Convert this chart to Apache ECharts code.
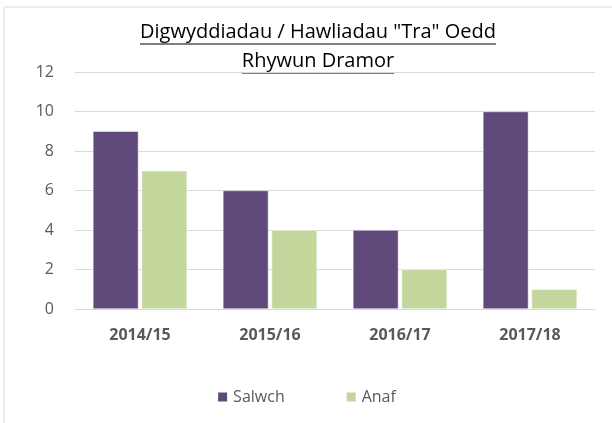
<!DOCTYPE html>
<html>
<head>
<meta charset="utf-8">
<script src="https://cdn.jsdelivr.net/npm/echarts@6/dist/echarts.min.js"></script>
<style>
  html, body { margin: 0; padding: 0; background: #fff; }
  #chart { width: 612px; height: 423px; }
</style>
</head>
<body>
<div id="chart"></div>
<script>
const titleLines = ['Digwyddiadau / Hawliadau "Tra" Oedd', 'Rhywun Dramor'];
const years = ['2014/15', '2015/16', '2016/17', '2017/18'];
const salwch = [9, 6, 4, 10];
const anaf = [7, 4, 2, 1];
const yTicks = [0, 2, 4, 6, 8, 10, 12];

const FONT = '"Open Sans", "Noto Sans", sans-serif';
const TITLE_SIZE = 20;
const chart = echarts.init(document.getElementById('chart'));

// measure title text so the underline fits it
const ctx = document.createElement('canvas').getContext('2d');
ctx.font = TITLE_SIZE + 'px ' + FONT;
const lineY = [32, 61];
const underline = titleLines.map((t, i) => {
  const w = ctx.measureText(t).width;
  return {
    type: 'line',
    shape: { x1: 318 - w / 2, y1: lineY[i] + 12, x2: 318 + w / 2, y2: lineY[i] + 12 },
    style: { stroke: '#000', lineWidth: 1 }
  };
});
const titleText = titleLines.map((t, i) => ({
  type: 'text',
  x: 318,
  y: lineY[i],
  style: {
    text: t, font: TITLE_SIZE + 'px ' + FONT, fill: '#000',
    align: 'center', verticalAlign: 'middle'
  }
}));

chart.setOption({
  animation: false,
  color: ['#604A7B', '#C3D69B'],
  graphic: [
    {
      type: 'rect',
      shape: { x: 4, y: 7, width: 700, height: 500 },
      style: { fill: 'none', stroke: '#d9d9d9', lineWidth: 1 }
    },
    ...titleText,
    ...underline
  ],
  grid: { left: 75, right: 17, top: 72, bottom: 114 },
  legend: {
    bottom: 13,
    left: 'center',
    itemWidth: 11,
    itemHeight: 11,
    itemGap: 60,
    icon: 'rect',
    textStyle: { fontFamily: FONT, fontSize: 16, color: '#595959' },
    data: ['Salwch', 'Anaf']
  },
  xAxis: {
    type: 'category',
    data: years,
    axisLine: { lineStyle: { color: '#d9d9d9' } },
    axisTick: { show: false },
    axisLabel: { fontFamily: FONT, fontWeight: 'bold', fontSize: 16, color: '#595959', margin: 18 }
  },
  yAxis: {
    type: 'value',
    min: yTicks[0],
    max: yTicks[yTicks.length - 1],
    interval: 2,
    axisLine: { show: false },
    axisTick: { show: false },
    axisLabel: { fontFamily: FONT, fontSize: 16, color: '#595959', margin: 21 },
    splitLine: { lineStyle: { color: '#d9d9d9', width: 1 } }
  },
  series: [
    {
      name: 'Salwch', type: 'bar', data: salwch,
      barWidth: '35%', barGap: '7%',
      itemStyle: { borderColor: '#ffffff', borderWidth: 0.5 }
    },
    {
      name: 'Anaf', type: 'bar', data: anaf,
      barWidth: '35%', barGap: '7%',
      itemStyle: { borderColor: '#ffffff', borderWidth: 0.5 }
    }
  ]
});
</script>
</body>
</html>
